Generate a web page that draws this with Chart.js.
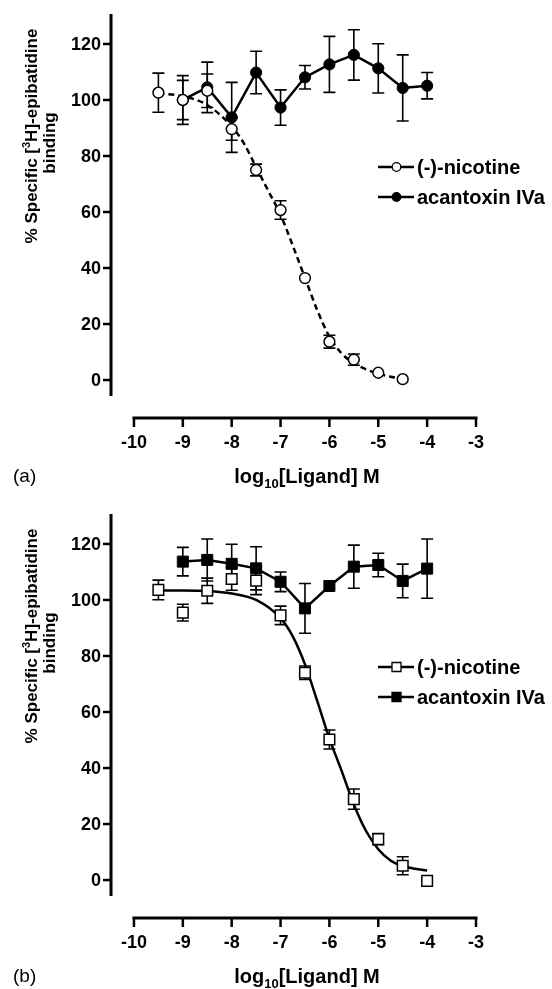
<!DOCTYPE html>
<html>
<head>
<meta charset="utf-8">
<script src="https://cdn.jsdelivr.net/npm/chart.js@4"></script>
<style>
  body { margin: 0; background: #fff; }
  canvas { display: block; }
</style>
</head>
<body>
<canvas id="chartA" width="552" height="500"></canvas>
<canvas id="chartB" width="552" height="489"></canvas>
<script>
// tick labels
var yTicks = [0, 20, 40, 60, 80, 100, 120];
var xTicks = [-10, -9, -8, -7, -6, -5, -4, -3];

// panel (a)
var nicA_x = [-9.5, -9, -8.5, -8, -7.5, -7, -6.5, -6, -5.5, -5, -4.5];
var nicA_y = [102.6, 100, 103.3, 89.6, 75, 60.7, 36.4, 13.7, 7.3, 2.6, 0.3];
var nicA_err = [7, 7, 6, 4, 2.1, 3.3, 0, 2.3, 2, 0, 0];
var acaA_x = [-9, -8.5, -8, -7.5, -7, -6.5, -6, -5.5, -5, -4.5, -4];
var acaA_y = [100, 104.5, 93.8, 109.8, 97.3, 108.1, 112.7, 116.1, 111.3, 104.3, 105.1];
var acaA_err = [8.7, 9, 12.5, 7.6, 6.3, 4.2, 10, 9, 8.8, 11.8, 4.7];
var fitA_x = [-9.5, -9, -8.5, -8, -7.75, -7.5, -7.25, -7, -6.75, -6.5, -6.25, -6, -5.75, -5.5, -5.25, -5, -4.75, -4.5];
var fitA_y = [102.4, 101.3, 98.2, 90.5, 84.5, 76, 67.5, 59, 48, 36.5, 25, 15.5, 9.5, 6, 3.8, 2.3, 1.2, 0.6];

// panel (b)
var nicB_x = [-9.5, -9, -8.5, -8, -7.5, -7, -6.5, -6, -5.5, -5, -4.5, -4];
var nicB_y = [103.6, 95.5, 103.3, 107.5, 106.9, 94.5, 74, 50.2, 28.9, 14.6, 5.1, -0.3];
var nicB_err = [3.5, 3, 4.5, 4, 5, 3.3, 2.4, 3.4, 3.6, 2, 3.2, 0];
var acaB_x = [-9, -8.5, -8, -7.5, -7, -6.5, -6, -5.5, -5, -4.5, -4];
var acaB_y = [113.7, 114.3, 112.9, 111.3, 106.5, 97, 105, 111.9, 112.5, 106.8, 111.2];
var acaB_err = [5.1, 7.5, 7, 7.7, 3.5, 8.9, 0, 7.7, 4.2, 6, 10.6];
var fitB_x = [-9.5, -9, -8.5, -8, -7.5, -7, -6.75, -6.5, -6.25, -6, -5.75, -5.5, -5.25, -5, -4.75, -4.5, -4.25, -4];
var fitB_y = [103.4, 103.4, 103.2, 102.3, 100, 93.5, 87, 77, 64, 50.5, 39, 27, 17.5, 11, 7, 5, 4, 3.4];

var seriesNames = ['(-)-nicotine', 'acantoxin IVa'];

var font = "'Liberation Sans', Arial, sans-serif";

function pts(xs, ys) {
  return xs.map(function (x, i) { return { x: x, y: ys[i] }; });
}

function drawMarker(ctx, shape, x, y, filled, r) {
  ctx.beginPath();
  if (shape == 'rect') ctx.rect(x - r, y - r, 2 * r, 2 * r);
  else ctx.arc(x, y, r, 0, Math.PI * 2);
  ctx.fillStyle = filled ? '#000' : '#fff';
  ctx.fill();
  ctx.lineWidth = 1.3;
  ctx.strokeStyle = '#000';
  ctx.stroke();
}

function framePlugin(letter, shape) {
  return {
    id: 'frame' + letter,
    beforeDatasetsDraw: function (chart) {
      // error bars, under the markers
      var ctx = chart.ctx, xs = chart.scales.x, ys = chart.scales.y;
      ctx.save();
      ctx.strokeStyle = '#000';
      ctx.lineWidth = 1.6;
      chart.data.datasets.forEach(function (ds) {
        if (!ds.errors) return;
        ds.data.forEach(function (p, j) {
          var e = ds.errors[j];
          if (!e) return;
          var px = xs.getPixelForValue(p.x);
          var top = ys.getPixelForValue(p.y + e);
          var bot = ys.getPixelForValue(p.y - e);
          ctx.beginPath();
          ctx.moveTo(px, top); ctx.lineTo(px, bot);
          ctx.moveTo(px - 6, top); ctx.lineTo(px + 6, top);
          ctx.moveTo(px - 6, bot); ctx.lineTo(px + 6, bot);
          ctx.stroke();
        });
      });
      ctx.restore();
    },
    afterDraw: function (chart) {
      var ctx = chart.ctx, xs = chart.scales.x, ys = chart.scales.y;
      var area = chart.chartArea;
      ctx.save();
      ctx.strokeStyle = '#000';
      ctx.fillStyle = '#000';

      // y axis
      ctx.lineWidth = 3;
      ctx.beginPath();
      ctx.moveTo(area.left, area.top);
      ctx.lineTo(area.left, area.bottom);
      ctx.stroke();
      ctx.lineWidth = 2.5;
      ctx.font = 'bold 18px ' + font;
      ctx.textAlign = 'right';
      ctx.textBaseline = 'middle';
      yTicks.forEach(function (t) {
        var py = ys.getPixelForValue(t);
        ctx.beginPath();
        ctx.moveTo(area.left - 8, py);
        ctx.lineTo(area.left, py);
        ctx.stroke();
        ctx.fillText(String(t), area.left - 10, py + 1);
      });

      // x axis, offset below the plot
      var axisY = 418;
      ctx.lineWidth = 3;
      ctx.beginPath();
      ctx.moveTo(xs.getPixelForValue(xTicks[0]) - 1.5, axisY);
      ctx.lineTo(xs.getPixelForValue(xTicks[xTicks.length - 1]) + 1.5, axisY);
      ctx.stroke();
      ctx.lineWidth = 2.5;
      ctx.textAlign = 'center';
      xTicks.forEach(function (t) {
        var px = xs.getPixelForValue(t);
        ctx.beginPath();
        ctx.moveTo(px, axisY);
        ctx.lineTo(px, axisY + 9);
        ctx.stroke();
        ctx.fillText(String(t), px, 443);
      });

      // x title with subscript
      ctx.textAlign = 'left';
      ctx.textBaseline = 'alphabetic';
      var big = 'bold 20px ' + font, small = 'bold 13px ' + font;
      ctx.font = big; var w1 = ctx.measureText('log').width;
      var w3 = ctx.measureText('[Ligand] M').width;
      ctx.font = small; var w2 = ctx.measureText('10').width;
      var sx = 307 - (w1 + w2 + w3) / 2, base = 483;
      ctx.font = big; ctx.fillText('log', sx, base);
      ctx.font = small; ctx.fillText('10', sx + w1, base + 5);
      ctx.font = big; ctx.fillText('[Ligand] M', sx + w1 + w2, base);

      // y title, rotated, with superscript
      var yb = 'bold 17px ' + font, ys3 = 'bold 11px ' + font;
      ctx.save();
      ctx.translate(32, 136);
      ctx.rotate(-Math.PI / 2);
      ctx.textBaseline = 'middle';
      ctx.font = yb; var a1 = ctx.measureText('% Specific [').width;
      var a3 = ctx.measureText('H]-epibatidine').width;
      ctx.font = ys3; var a2 = ctx.measureText('3').width;
      var st = -(a1 + a2 + a3) / 2;
      ctx.font = yb; ctx.fillText('% Specific [', st, 0);
      ctx.font = ys3; ctx.fillText('3', st + a1, -5);
      ctx.font = yb; ctx.fillText('H]-epibatidine', st + a1 + a2, 0);
      ctx.restore();
      ctx.save();
      ctx.translate(50, 143);
      ctx.rotate(-Math.PI / 2);
      ctx.textAlign = 'center';
      ctx.textBaseline = 'middle';
      ctx.font = yb;
      ctx.fillText('binding', 0, 0);
      ctx.restore();

      // legend
      var rows = [167, 197];
      rows.forEach(function (ly, k) {
        ctx.lineWidth = 2.5;
        ctx.beginPath();
        ctx.moveTo(378, ly); ctx.lineTo(414, ly);
        ctx.stroke();
        drawMarker(ctx, shape, 396.5, ly, k == 1, shape == 'rect' ? 4.5 : 4.3);
        ctx.fillStyle = '#000';
        ctx.font = 'bold 20px ' + font;
        ctx.textAlign = 'left';
        ctx.textBaseline = 'middle';
        ctx.fillText(seriesNames[k], 417, ly + 1);
      });

      // panel letter
      ctx.font = '19px ' + font;
      ctx.textAlign = 'left';
      ctx.textBaseline = 'middle';
      ctx.fillText('(' + letter + ')', 13, 477);
      ctx.restore();
    }
  };
}

function makeChart(id, h, letter, shape, nx, ny, ne, ax, ay, ae, fx, fy, dashed) {
  var r = shape == 'rect' ? 7.5 : 5.4;
  return new Chart(document.getElementById(id), {
    type: 'scatter',
    data: {
      datasets: [
        {
          label: seriesNames[0],
          data: pts(nx, ny),
          errors: ne,
          showLine: false,
          pointStyle: shape,
          pointRadius: r,
          pointBackgroundColor: '#fff',
          pointBorderColor: '#000',
          pointBorderWidth: 1.5,
          clip: false
        },
        {
          label: 'fit',
          data: pts(fx, fy),
          showLine: true,
          pointRadius: 0,
          borderColor: '#000',
          borderWidth: 2.5,
          borderDash: dashed ? [6, 4] : [],
          cubicInterpolationMode: 'monotone',
          clip: false
        },
        {
          label: seriesNames[1],
          data: pts(ax, ay),
          errors: ae,
          showLine: true,
          borderColor: '#000',
          borderWidth: 2.5,
          pointStyle: shape,
          pointRadius: shape == 'rect' ? 7.8 : 5.6,
          pointBackgroundColor: '#000',
          pointBorderColor: '#000',
          pointBorderWidth: 1,
          clip: false
        }
      ]
    },
    options: {
      responsive: false,
      animation: false,
      events: [],
      layout: { padding: { left: 111, right: 76, top: 14, bottom: h - 396 } },
      plugins: { legend: { display: false }, tooltip: { enabled: false } },
      scales: {
        x: { type: 'linear', display: false, min: -10.47, max: -3 },
        y: { type: 'linear', display: false, min: -5.7, max: 130.7 }
      }
    },
    plugins: [framePlugin(letter, shape)]
  });
}

makeChart('chartA', 500, 'a', 'circle', nicA_x, nicA_y, nicA_err, acaA_x, acaA_y, acaA_err, fitA_x, fitA_y, true);
makeChart('chartB', 489, 'b', 'rect', nicB_x, nicB_y, nicB_err, acaB_x, acaB_y, acaB_err, fitB_x, fitB_y, false);
</script>
</body>
</html>
